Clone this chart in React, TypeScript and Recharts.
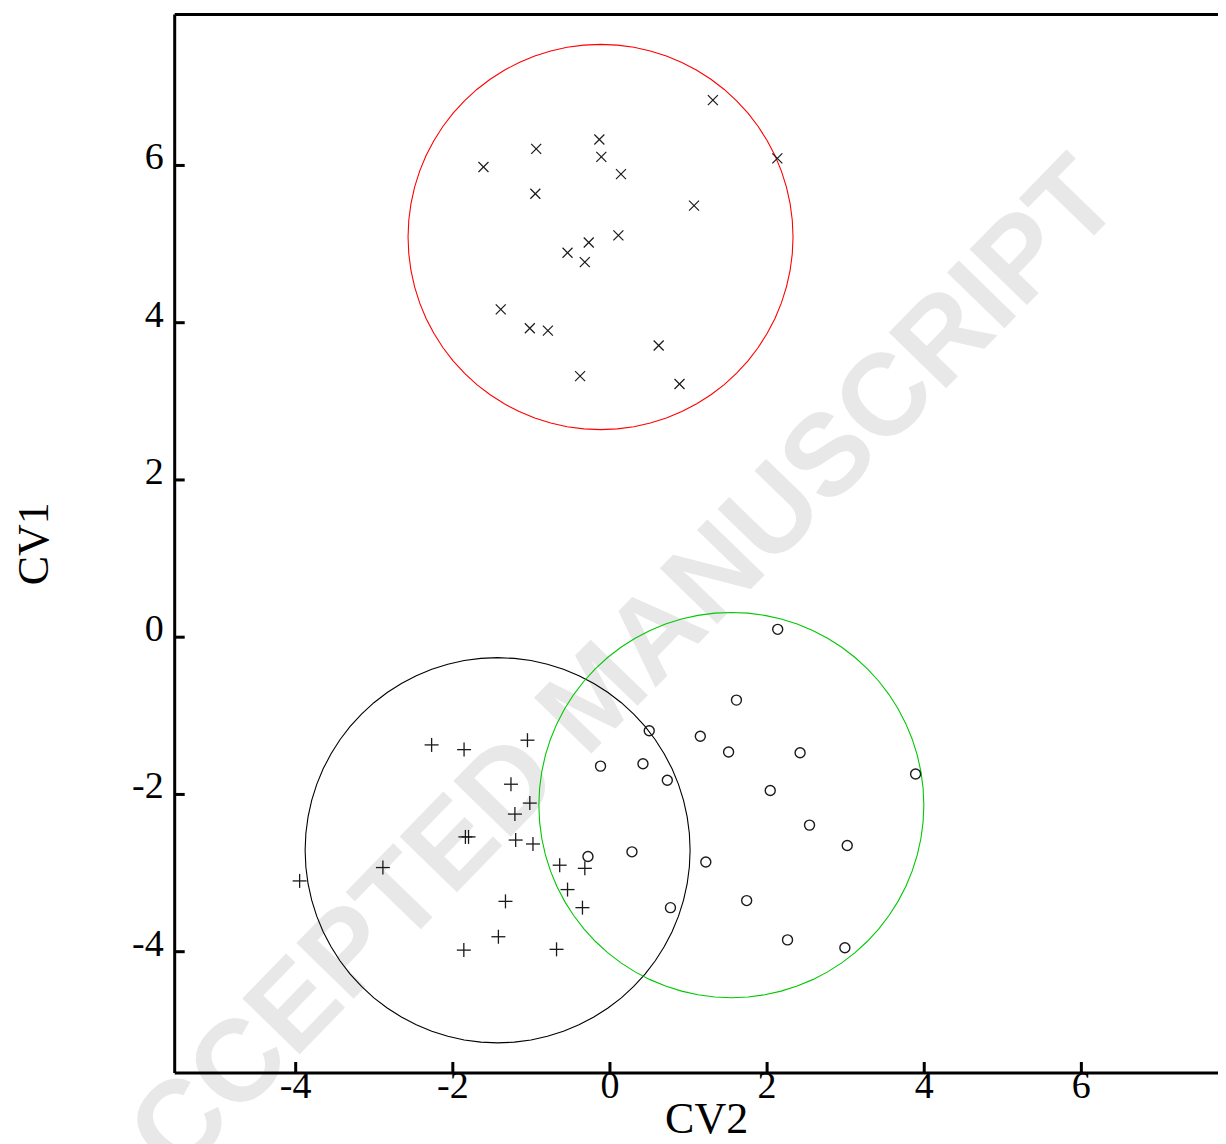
import React from 'react';
import { ScatterChart, Scatter, XAxis, YAxis, ReferenceLine } from 'recharts';

// Group 1 (x markers)
const crossCV2 = [1.31, -0.135, -0.939, -0.11, -1.61, 2.13, 0.14, -0.95, 1.07, 0.107, -0.27, -0.54, -0.32, -1.39, -1.02, -0.79, 0.62, -0.38, 0.885];
const crossCV1 = [6.83, 6.33, 6.21, 6.11, 5.98, 6.09, 5.89, 5.64, 5.49, 5.11, 5.02, 4.89, 4.77, 4.17, 3.93, 3.9, 3.71, 3.32, 3.22];

// Group 2 (+ markers)
const plusCV2 = [-2.27, -1.857, -1.05, -1.26, -1.02, -1.21, -1.84, -1.8, -1.2, -0.98, -2.89, -3.95, -0.64, -0.32, -0.54, -0.35, -1.33, -1.42, -1.86, -0.68];
const plusCV1 = [-1.37, -1.43, -1.31, -1.87, -2.11, -2.25, -2.54, -2.54, -2.58, -2.63, -2.93, -3.1, -2.9, -2.94, -3.21, -3.44, -3.36, -3.81, -3.98, -3.97];

// Group 3 (o markers)
const ringCV2 = [2.135, 1.61, 0.5, 1.15, 1.51, 2.42, 3.89, -0.12, 0.42, 0.73, 2.04, 2.54, 3.02, -0.28, 0.28, 1.22, 1.74, 0.77, 2.26, 2.99];
const ringCV1 = [0.1, -0.8, -1.19, -1.26, -1.46, -1.47, -1.74, -1.64, -1.61, -1.82, -1.95, -2.39, -2.65, -2.79, -2.73, -2.86, -3.35, -3.44, -3.85, -3.95];

// Group confidence circles: centres and radii
const circleCV2 = [-0.12, -1.43, 1.545];
const circleCV1 = [5.09, -2.71, -2.135];
const circleRadius = [2.45, 2.45, 2.45];
const circleColors = ['#ff0000', '#000000', '#00c800'];

const xTicks = [-4, -2, 0, 2, 4, 6];
const yTicks = [-4, -2, 0, 2, 4, 6];
const xLabel = 'CV2';
const yLabel = 'CV1';
const watermark = 'ACCEPTED MANUSCRIPT';

const zip = (xs: number[], ys: number[]) => xs.map((x, i) => ({ x, y: ys[i] }));
const crossData = zip(crossCV2, crossCV1);
const plusData = zip(plusCV2, plusCV1);
const ringData = zip(ringCV2, ringCV1);

const SEGMENTS = 72;
const outline = (i: number) => {
  const pts: { x: number; y: number }[] = [];
  for (let k = 0; k <= SEGMENTS; k++) {
    const a = (2 * Math.PI * k) / SEGMENTS;
    pts.push({ x: circleCV2[i] + circleRadius[i] * Math.cos(a), y: circleCV1[i] + circleRadius[i] * Math.sin(a) });
  }
  return pts;
};

const serif = '"Liberation Serif", "Times New Roman", serif';
const MARK = '#1a1a1a';

const CrossShape = (p: any) => {
  const { cx, cy } = p;
  const s = 5;
  return (
    <g>
      <line x1={cx - s} y1={cy - s} x2={cx + s} y2={cy + s} stroke={MARK} strokeWidth={1.2} />
      <line x1={cx - s} y1={cy + s} x2={cx + s} y2={cy - s} stroke={MARK} strokeWidth={1.2} />
    </g>
  );
};
const PlusShape = (p: any) => {
  const { cx, cy } = p;
  const s = 7;
  return (
    <g>
      <line x1={cx - s} y1={cy} x2={cx + s} y2={cy} stroke={MARK} strokeWidth={1.3} />
      <line x1={cx} y1={cy - s} x2={cx} y2={cy + s} stroke={MARK} strokeWidth={1.3} />
    </g>
  );
};
const RingShape = (p: any) => {
  const { cx, cy } = p;
  return <circle cx={cx} cy={cy} r={5} fill="none" stroke={MARK} strokeWidth={1.4} />;
};
const NoShape = () => <g />;

const XTick = (p: any) => {
  const { x, y, payload } = p;
  return (
    <g>
      <line x1={x} y1={y} x2={x} y2={y - 11} stroke="#000" strokeWidth={3} />
      <text x={x} y={y + 25} textAnchor="middle" fontFamily={serif} fontSize={38} fill="#000">
        {String(payload.value)}
      </text>
    </g>
  );
};
const YTick = (p: any) => {
  const { x, y, payload } = p;
  return (
    <g>
      <line x1={x} y1={y} x2={x + 10} y2={y} stroke="#000" strokeWidth={3} />
      <text x={x - 11} y={y + 4} textAnchor="end" fontFamily={serif} fontSize={38} fill="#000">
        {String(payload.value)}
      </text>
    </g>
  );
};

const XLabel = (p: any) => {
  const vb = p.viewBox || {};
  return (
    <text x={vb.x + vb.width / 2} y={vb.y + 60} textAnchor="middle" fontFamily={serif} fontSize={44} fill="#000">
      {xLabel}
    </text>
  );
};
const YLabel = (p: any) => {
  const vb = p.viewBox || {};
  const cx = 40;
  const cy = vb.y + vb.height / 2;
  return (
    <text x={cx} y={cy} transform={`rotate(-90 ${cx} ${cy})`} textAnchor="middle" fontFamily={serif} fontSize={44} fill="#000">
      {yLabel}
    </text>
  );
};

export default function App() {
  return (
    <div style={{ position: 'relative', width: 1218, height: 1136, overflow: 'hidden' }}>
      <style>{'html,body{overflow:hidden}'}</style>
      <svg width={1218} height={1136} style={{ position: 'absolute', left: 0, top: 0 }}>
        <text
          x={584}
          y={685}
          dy="0.36em"
          transform="rotate(-45.85 584 685)"
          textAnchor="middle"
          fontFamily='"Liberation Sans", Arial, sans-serif'
          fontWeight="bold"
          fontSize={116}
          fill="#e8e8e8"
        >
          {watermark}
        </text>
      </svg>
      <div style={{ position: 'absolute', left: 0, top: 0 }}>
        <ScatterChart width={1240} height={1136} margin={{ top: 6.5, right: 9.5, bottom: 0, left: 66.7 }}>
          <XAxis
            type="number"
            dataKey="x"
            domain={[-5.54, 8]}
            allowDataOverflow
            ticks={xTicks}
            tickLine={false}
            tickSize={0}
            tickMargin={0}
            tick={<XTick />}
            axisLine={{ stroke: '#000', strokeWidth: 3 }}
            height={71}
            label={<XLabel />}
          />
          <YAxis
            type="number"
            dataKey="y"
            domain={[-5.543, 7.92]}
            allowDataOverflow
            ticks={yTicks}
            tickLine={false}
            tickSize={0}
            tickMargin={0}
            tick={<YTick />}
            axisLine={{ stroke: '#000', strokeWidth: 3 }}
            width={100}
            label={<YLabel />}
          />
          <ReferenceLine y={7.92} stroke="#000" strokeWidth={3} />
          <ReferenceLine x={8} stroke="#000" strokeWidth={3} />
          {circleColors.map((c, i) => (
            <Scatter
              key={`c${i}`}
              data={outline(i)}
              line={{ stroke: c, strokeWidth: 1.1 }}
              lineType="joint"
              shape={NoShape}
              isAnimationActive={false}
            />
          ))}
          <Scatter data={crossData} shape={CrossShape} isAnimationActive={false} />
          <Scatter data={plusData} shape={PlusShape} isAnimationActive={false} />
          <Scatter data={ringData} shape={RingShape} isAnimationActive={false} />
        </ScatterChart>
      </div>
    </div>
  );
}
